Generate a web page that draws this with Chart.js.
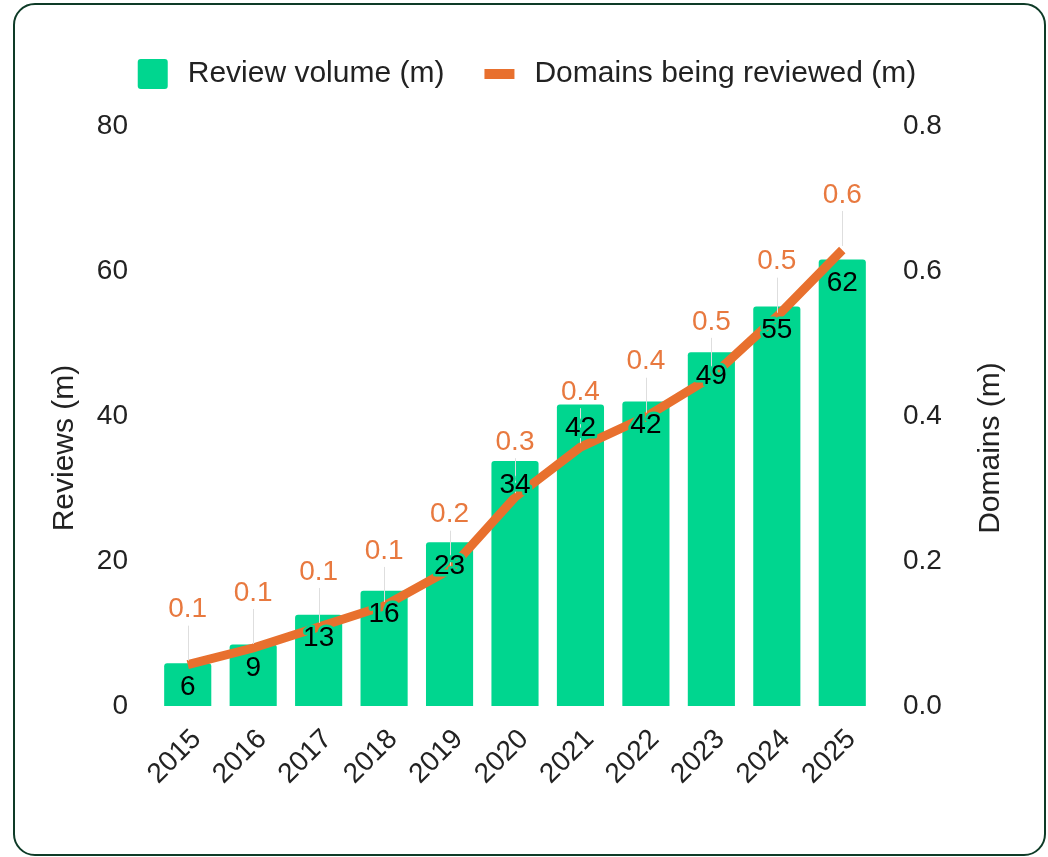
<!DOCTYPE html>
<html>
<head>
<meta charset="utf-8">
<script src="https://cdn.jsdelivr.net/npm/chart.js@4.4.1/dist/chart.umd.min.js"></script>
<style>
  html, body { margin: 0; padding: 0; background: #ffffff; }
  #card { position: absolute; left: 13px; top: 3px; width: 1029px; height: 849px;
          border: 2px solid #0e3b27; border-radius: 22px; background: #fff; }
  #wrap { position: absolute; left: 0; top: 0; width: 1048px; height: 857px; }
</style>
</head>
<body>
<div id="card"></div>
<div id="wrap"><canvas id="c" width="1048" height="857"></canvas></div>
<script>
const years = ['2015','2016','2017','2018','2019','2020','2021','2022','2023','2024','2025'];
const reviewVolume = [5.9, 8.5, 12.6, 15.9, 22.6, 33.8, 41.6, 42.0, 48.8, 55.1, 61.6];
const domainsReviewed = [0.057, 0.080, 0.109, 0.138, 0.188, 0.288, 0.357, 0.399, 0.454, 0.537, 0.629];
const leftTicks = [0, 20, 40, 60, 80];
const rightTicks = [0.0, 0.2, 0.4, 0.6, 0.8];
const seriesNames = ['Review volume (m)', 'Domains being reviewed (m)'];
const axisTitles = ['Reviews (m)', 'Domains (m)'];

const GREEN = '#00D68F';
const ORANGE = '#E8702E';
const FONT = "'Liberation Sans', Arial, sans-serif";
const TEXT = '#222222';
const FS = 28;

const legendPlugin = {
  id: 'customLegend',
  afterDraw(chart) {
    const ctx = chart.ctx;
    ctx.save();
    ctx.font = '30px ' + FONT;
    ctx.textBaseline = 'middle';
    ctx.textAlign = 'left';
    const box = 30, gapText = 20, gapItems = 40;
    const w1 = ctx.measureText(seriesNames[0]).width;
    const w2 = ctx.measureText(seriesNames[1]).width;
    const total = box + gapText + w1 + gapItems + box + gapText + w2;
    let x = (chart.width - total) / 2 + 3;
    const cy = 74;
    ctx.fillStyle = GREEN;
    ctx.beginPath();
    if (ctx.roundRect) ctx.roundRect(x, cy - box / 2, box, box, 3); else ctx.rect(x, cy - box / 2, box, box);
    ctx.fill();
    x += box + gapText;
    ctx.fillStyle = TEXT;
    ctx.fillText(seriesNames[0], x, cy);
    x += w1 + gapItems;
    ctx.fillStyle = ORANGE;
    ctx.fillRect(x, cy - 5, box, 10);
    x += box + gapText;
    ctx.fillStyle = TEXT;
    ctx.fillText(seriesNames[1], x, cy);

    // axis titles (both read bottom-to-top)
    ctx.font = '30px ' + FONT;
    ctx.textAlign = 'center';
    ctx.textBaseline = 'middle';
    const midY = (chart.chartArea.top + chart.chartArea.bottom) / 2 + 32;
    [[65, axisTitles[0]], [991, axisTitles[1]]].forEach(([tx, t]) => {
      ctx.save();
      ctx.translate(tx, midY);
      ctx.rotate(-Math.PI / 2);
      ctx.fillText(t, 0, 0);
      ctx.restore();
    });
    ctx.restore();
  }
};

const labelPlugin = {
  id: 'valueLabels',
  afterDatasetsDraw(chart) {
    const ctx = chart.ctx;
    const barMeta = chart.getDatasetMeta(0);
    const lineMeta = chart.getDatasetMeta(1);
    ctx.save();
    ctx.font = FS + 'px ' + FONT;
    ctx.textAlign = 'center';
    ctx.textBaseline = 'middle';
    ctx.lineJoin = 'round';
    // leader lines
    ctx.strokeStyle = '#dedede';
    ctx.lineWidth = 1;
    lineMeta.data.forEach((pt) => {
      ctx.beginPath();
      ctx.moveTo(Math.round(pt.x) + 0.5, pt.y - 4);
      ctx.lineTo(Math.round(pt.x) + 0.5, pt.y - 55 + 16);
      ctx.stroke();
    });
    // bar labels
    barMeta.data.forEach((bar, i) => {
      const y = bar.y + 24;
      const t = String(Math.round(reviewVolume[i]));
      ctx.lineWidth = 5;
      ctx.strokeStyle = GREEN;
      ctx.strokeText(t, bar.x, y);
      ctx.fillStyle = '#000000';
      ctx.fillText(t, bar.x, y);
    });
    // line labels
    lineMeta.data.forEach((pt, i) => {
      const y = pt.y - 55;
      const t = domainsReviewed[i].toFixed(1);
      ctx.lineWidth = 5;
      ctx.strokeStyle = '#ffffff';
      ctx.strokeText(t, pt.x, y);
      ctx.fillStyle = '#E8793F';
      ctx.fillText(t, pt.x, y);
    });
    ctx.restore();
  }
};

new Chart(document.getElementById('c'), {
  type: 'bar',
  data: {
    labels: years,
    datasets: [
      {
        type: 'bar',
        label: seriesNames[0],
        data: reviewVolume,
        backgroundColor: GREEN,
        borderRadius: { topLeft: 3, topRight: 3, bottomLeft: 0, bottomRight: 0 },
        borderSkipped: 'bottom',
        yAxisID: 'y',
        order: 2
      },
      {
        type: 'line',
        label: seriesNames[1],
        data: domainsReviewed,
        borderColor: ORANGE,
        backgroundColor: ORANGE,
        borderWidth: 9,
        pointRadius: 0,
        pointHoverRadius: 0,
        tension: 0,
        borderCapStyle: 'butt',
        yAxisID: 'y1',
        order: 1
      }
    ]
  },
  options: {
    responsive: false,
    animation: false,
    devicePixelRatio: 1,
    layout: { padding: { top: 126, left: 48, right: 38, bottom: 0 } },
    plugins: {
      legend: { display: false },
      tooltip: { enabled: false }
    },
    scales: {
      x: {
        grid: { display: false, drawTicks: false },
        border: { display: false },
        ticks: {
          color: TEXT, font: { family: FONT, size: FS },
          maxRotation: 45, minRotation: 45, padding: 17, labelOffset: 9, autoSkip: false
        },
        afterFit(scale) { scale.height = 151; }
      },
      y: {
        position: 'left',
        min: 0, max: 80,
        afterBuildTicks(scale) { scale.ticks = leftTicks.map(v => ({ value: v })); },
        grid: { display: false, drawTicks: false },
        border: { display: false },
        ticks: { color: TEXT, font: { family: FONT, size: FS }, padding: 27 },
        title: { display: false },
        afterFit(scale) { scale.width = 107; }
      },
      y1: {
        position: 'right',
        min: 0, max: 0.8,
        afterBuildTicks(scale) { scale.ticks = rightTicks.map(v => ({ value: v })); },
        grid: { display: false, drawTicks: false },
        border: { display: false },
        ticks: { color: TEXT, font: { family: FONT, size: FS }, padding: 28,
                 callback: (v) => Number(v).toFixed(1) },
        title: { display: false },
        afterFit(scale) { scale.width = 135; }
      }
    }
  },
  plugins: [legendPlugin, labelPlugin]
});
</script>
</body>
</html>
